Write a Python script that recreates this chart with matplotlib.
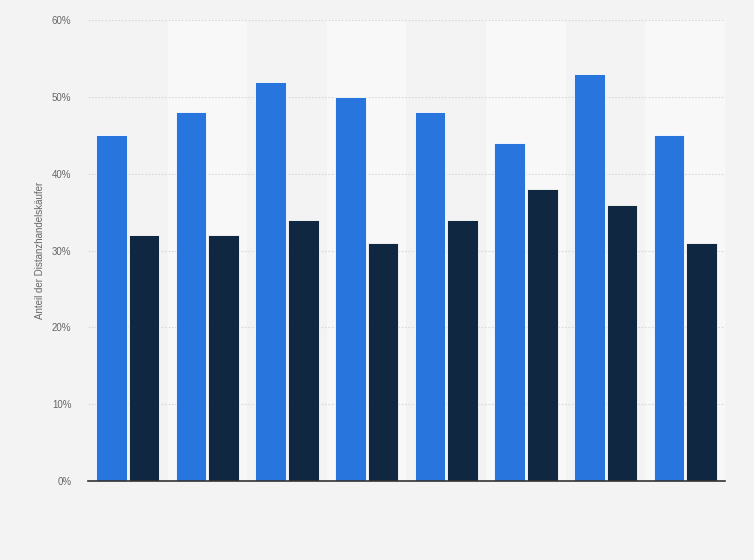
import numpy as np
import matplotlib
matplotlib.use("Agg")
from matplotlib import pyplot as plt
from matplotlib.ticker import PercentFormatter

# Werte (Prozent)
groups = ["1", "2", "3", "4", "5", "6", "7", "8"]
series_a = [45, 48, 52, 50, 48, 44, 53, 45]
series_b = [32, 32, 34, 31, 34, 38, 36, 31]
y_ticks = [0, 10, 20, 30, 40, 50, 60]
y_label = "Anteil der Distanzhandelskäufer"

blue = "#2876dd"
navy = "#0f2740"
bg = "#f3f3f3"

plt.rcParams["font.family"] = ["Liberation Sans", "DejaVu Sans"]

fig = plt.figure(figsize=(7.54, 5.6), dpi=100, facecolor=bg)
ax = fig.add_axes([0.1167, 0.141, 0.8448, 0.823])
ax.set_facecolor(bg)

x = np.arange(len(groups))
w = 0.385
off = 0.205

# abwechselnde Hintergrundstreifen
for i in x:
    if i % 2 == 1:
        ax.axvspan(i - 0.5, i + 0.5, color="#f8f8f8", zorder=0, lw=0)

ax.bar(x - off, series_a, w, color=blue, edgecolor="#ffffff", linewidth=0.6, zorder=3)
ax.bar(x + off, series_b, w, color=navy, edgecolor="#ffffff", linewidth=0.6, zorder=3)

ax.set_xlim(-0.5, len(groups) - 0.5)
ax.set_ylim(0, 60)
ax.set_yticks(y_ticks)
ax.yaxis.set_major_formatter(PercentFormatter(decimals=0))
ax.grid(axis="y", color="#d8d8d8", linestyle=(0, (1.5, 1.5)), linewidth=0.8, zorder=1)
ax.set_axisbelow(True)

ax.set_xticks([])
for s in ["top", "right", "left"]:
    ax.spines[s].set_visible(False)
ax.spines["bottom"].set_color("#333333")
ax.spines["bottom"].set_linewidth(1.2)
ax.spines["bottom"].set_zorder(4)

ax.tick_params(axis="y", length=0, labelsize=7, labelcolor="#666666", pad=12)
ax.set_ylabel(y_label, fontsize=7, color="#666666", labelpad=5)

fig.savefig("out.png", dpi=100, facecolor=bg)
